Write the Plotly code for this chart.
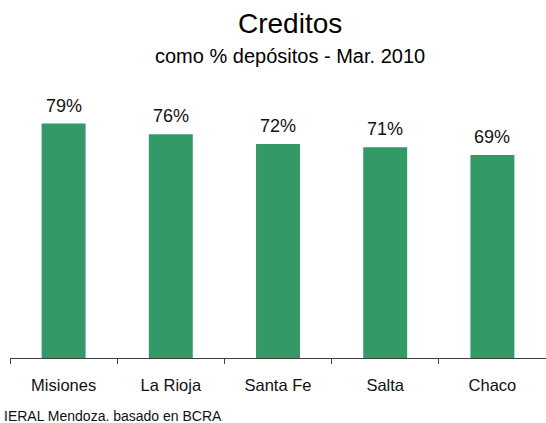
import plotly.graph_objects as go

categories = ["Misiones", "La Rioja", "Santa Fe", "Salta", "Chaco"]
values = [79.2, 75.6, 72.3, 71.2, 68.6]
labels = ["79%", "76%", "72%", "71%", "69%"]

FONT = "Liberation Sans"
GREEN = "#339966"

fig = go.Figure()
fig.add_trace(go.Bar(x=categories, y=values, marker=dict(color=GREEN, line=dict(width=0)),
                     width=0.41, hoverinfo="skip"))

for c, v, t in zip(categories, values, labels):
    fig.add_annotation(x=c, y=v, text=t, showarrow=False, yanchor="bottom", yshift=6,
                       font=dict(family=FONT, size=18, color="#111111"))

fig.add_annotation(xref="paper", yref="paper", x=0.522, y=1, yanchor="bottom", yshift=21,
                   text="Creditos", showarrow=False,
                   font=dict(family=FONT, size=28, color="#000000"))
fig.add_annotation(xref="paper", yref="paper", x=0.522, y=1, yanchor="bottom", yshift=-7,
                   text="como % depósitos - Mar. 2010", showarrow=False,
                   font=dict(family=FONT, size=20, color="#000000"))
fig.add_annotation(xref="paper", yref="paper", x=0, xshift=-8, xanchor="left", y=0,
                   yanchor="top", yshift=-48, text="IERAL Mendoza. basado en BCRA",
                   showarrow=False, font=dict(family=FONT, size=14, color="#111111"))

fig.update_layout(
    width=546, height=423,
    margin=dict(l=10, r=0, t=62, b=65),
    paper_bgcolor="white", plot_bgcolor="white",
    showlegend=False,
    font=dict(family=FONT),
    xaxis=dict(showline=True, linecolor="#404040", linewidth=1, ticks="outside",
               tickson="boundaries", ticklen=5, tickcolor="#404040", ticklabelstandoff=12,
               tickfont=dict(family=FONT, size=16.5, color="#111111"), showgrid=False),
    yaxis=dict(range=[0, 100], visible=False, showgrid=False, zeroline=False),
)

fig.write_html("out.html")
